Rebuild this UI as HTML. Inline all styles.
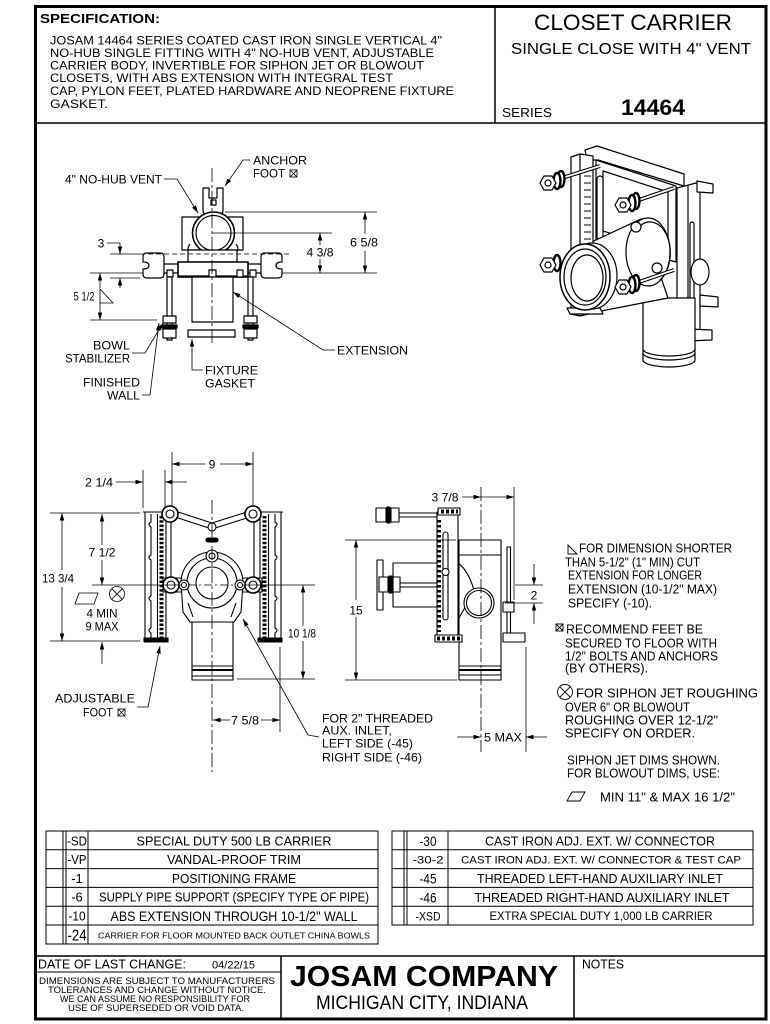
<!DOCTYPE html>
<html><head><meta charset="utf-8"><style>
html,body{margin:0;padding:0;background:#fff;}
svg{display:block;}
text{font-family:"Liberation Sans",Arial,sans-serif;fill:#000;stroke:none;}
</style></head><body>
<svg width="770" height="1024" viewBox="0 0 770 1024" xmlns="http://www.w3.org/2000/svg">
<defs>
<marker id="a" viewBox="0 0 10 6" refX="10" refY="3" markerWidth="8" markerHeight="4.5" markerUnits="userSpaceOnUse" orient="auto-start-reverse"><path d="M0,0 L10,3 L0,6 z" fill="#000" stroke="none"/></marker>
</defs>
<rect x="0" y="0" width="770" height="1024" fill="#fff"/>

<!-- FRAME -->
<rect x="35.5" y="6.5" width="730.5" height="1012.5" fill="none" stroke="#000" stroke-width="3"/>
<line x1="495" y1="7" x2="495" y2="123" stroke="#000" stroke-width="1.5"/>
<line x1="35" y1="123" x2="766" y2="123" stroke="#000" stroke-width="1.5"/>

<!-- HEADER TEXT -->
<text x="40" y="23" font-size="13" font-weight="bold" textLength="120" lengthAdjust="spacingAndGlyphs">SPECIFICATION:</text>
<g font-size="12">
<text x="50" y="44.5" textLength="392" lengthAdjust="spacingAndGlyphs">JOSAM 14464 SERIES COATED CAST IRON SINGLE VERTICAL 4"</text>
<text x="50" y="57" textLength="384" lengthAdjust="spacingAndGlyphs">NO-HUB SINGLE FITTING WITH 4" NO-HUB VENT, ADJUSTABLE</text>
<text x="50" y="69.5" textLength="374" lengthAdjust="spacingAndGlyphs">CARRIER BODY, INVERTIBLE FOR SIPHON JET OR BLOWOUT</text>
<text x="50" y="82" textLength="343" lengthAdjust="spacingAndGlyphs">CLOSETS, WITH ABS EXTENSION WITH INTEGRAL TEST</text>
<text x="50" y="95" textLength="404" lengthAdjust="spacingAndGlyphs">CAP, PYLON FEET, PLATED HARDWARE AND NEOPRENE FIXTURE</text>
<text x="50" y="108" textLength="58" lengthAdjust="spacingAndGlyphs">GASKET.</text>
</g>
<text x="633" y="30" font-size="22" text-anchor="middle" textLength="198" lengthAdjust="spacingAndGlyphs">CLOSET CARRIER</text>
<text x="631" y="54" font-size="15.5" text-anchor="middle" textLength="240" lengthAdjust="spacingAndGlyphs">SINGLE CLOSE WITH 4" VENT</text>
<text x="502" y="117" font-size="13" textLength="50" lengthAdjust="spacingAndGlyphs">SERIES</text>
<text x="621" y="115" font-size="22" font-weight="bold" textLength="64" lengthAdjust="spacingAndGlyphs">14464</text>

<!-- ================= TOP PLAN VIEW ================= -->
<g stroke="#000" stroke-width="1.2" fill="#fff" stroke-linejoin="round">
 <path d="M203,188 L209,188 L209,198 L217,198 L217,188 L223,188 L223,210 Q223,215 218,215 L208,215 Q203,215 203,210 Z"/>
 <rect x="211" y="200" width="5" height="5"/>
 <rect x="182" y="217" width="61" height="33"/>
 <path d="M190,244 Q186,250 190,252 M236,244 Q240,250 236,252" fill="none"/>
 <circle cx="213.5" cy="233" r="21" stroke-width="1.6"/>
 <circle cx="213.5" cy="233" r="17.5"/>
 <rect x="188" y="250" width="49" height="12"/>
 <rect x="160" y="264" width="105" height="9"/>
 <path d="M147,253 L160,253 Q164,253 164,257 L164,274 Q164,278 160,278 L147,278 Q143,278 143,274 L143,269 Q149,269 149,265.5 Q149,262 143,262 L143,257 Q143,253 147,253 Z"/>
 <path d="M265,253 L278,253 Q282,253 282,257 L282,262 Q276,262 276,265.5 Q276,269 282,269 L282,274 Q282,278 278,278 L265,278 Q261,278 261,274 L261,257 Q261,253 265,253 Z"/>
 <rect x="178" y="262" width="70" height="15" stroke-width="1.6"/>
 <line x1="178" y1="276.5" x2="248" y2="276.5" stroke-width="2.2"/>
 <rect x="167" y="270" width="6" height="7"/>
 <rect x="209" y="270" width="7" height="7"/>
 <rect x="237" y="270" width="6" height="7"/>
 <rect x="250" y="270" width="6" height="7"/>
 <rect x="167" y="277" width="5" height="63"/>
 <rect x="248" y="277" width="5" height="63"/>
 <rect x="163" y="316" width="13" height="7"/>
 <rect x="162" y="325" width="15" height="3" fill="#000"/>
 <rect x="163" y="329" width="13" height="9"/>
 <rect x="244" y="316" width="13" height="7"/>
 <rect x="243" y="325" width="15" height="3" fill="#000"/>
 <rect x="244" y="329" width="13" height="9"/>
 <rect x="192" y="277" width="41" height="45"/>
 <rect x="188" y="330" width="47" height="7"/>
</g>
<g stroke="#000" stroke-width="0.8" fill="none">
 <line x1="212" y1="168" x2="212" y2="345" stroke-dasharray="14 3 3 3"/>
 <line x1="212" y1="233" x2="236" y2="233"/>
 <line x1="140" y1="254" x2="292" y2="254" stroke-dasharray="5 3"/>
 <line x1="90" y1="273" x2="143" y2="273"/>
 <line x1="282" y1="273" x2="377" y2="273"/>
 <line x1="225" y1="212" x2="377" y2="212"/>
 <line x1="236" y1="233" x2="332" y2="233"/>
 <line x1="90" y1="320" x2="157" y2="320"/>
 <line x1="110" y1="254" x2="140" y2="254"/>
 <line x1="110" y1="278" x2="140" y2="278"/>
 <line x1="365" y1="234" x2="365" y2="212" marker-end="url(#a)"/>
 <line x1="365" y1="251" x2="365" y2="273" marker-end="url(#a)"/>
 <line x1="320" y1="245" x2="320" y2="233" marker-end="url(#a)"/>
 <line x1="320" y1="259" x2="320" y2="273" marker-end="url(#a)"/>
 <polyline points="107,243 120,243 120,254" marker-end="url(#a)"/>
 <line x1="120" y1="288" x2="120" y2="278" marker-end="url(#a)"/>
 <line x1="100" y1="288" x2="100" y2="273" marker-end="url(#a)"/>
 <line x1="100" y1="303" x2="100" y2="320" marker-end="url(#a)"/>
 <path d="M100,289 L100,303 L113,303 Z"/>
 <polyline points="164,179 177,179 198,213" marker-end="url(#a)"/>
 <polyline points="250,160 243,160 225,186" marker-end="url(#a)"/>
 <polyline points="335,350 323,350 233,292" marker-end="url(#a)"/>
 <polyline points="203,370 192,370 192,339" marker-end="url(#a)"/>
 <polyline points="132,353 145,353 163,323" marker-end="url(#a)"/>
 <polyline points="142,395 150,395 159,323" marker-end="url(#a)"/>
 <rect x="290" y="170" width="7" height="7"/>
 <path d="M290,170 L297,177 M297,170 L290,177"/>
</g>
<g font-size="12">
 <text x="65" y="183.5" textLength="97" lengthAdjust="spacingAndGlyphs">4" NO-HUB VENT</text>
 <text x="253" y="164.5" textLength="54" lengthAdjust="spacingAndGlyphs">ANCHOR</text>
 <text x="253" y="177.5" textLength="32" lengthAdjust="spacingAndGlyphs">FOOT</text>
 <text x="101" y="247.5" text-anchor="middle">3</text>
 <text x="364" y="246.5" text-anchor="middle" textLength="28" lengthAdjust="spacingAndGlyphs">6 5/8</text>
 <text x="320" y="256.5" text-anchor="middle" textLength="27" lengthAdjust="spacingAndGlyphs">4 3/8</text>
 <text x="84" y="300.5" text-anchor="middle" textLength="21" lengthAdjust="spacingAndGlyphs">5 1/2</text>
 <text x="130" y="349.5" text-anchor="end" textLength="37" lengthAdjust="spacingAndGlyphs">BOWL</text>
 <text x="130" y="362.5" text-anchor="end" textLength="65" lengthAdjust="spacingAndGlyphs">STABILIZER</text>
 <text x="140" y="386.5" text-anchor="end" textLength="57" lengthAdjust="spacingAndGlyphs">FINISHED</text>
 <text x="140" y="399.5" text-anchor="end" textLength="33" lengthAdjust="spacingAndGlyphs">WALL</text>
 <text x="205" y="374.5" textLength="53" lengthAdjust="spacingAndGlyphs">FIXTURE</text>
 <text x="205" y="387.5" textLength="50" lengthAdjust="spacingAndGlyphs">GASKET</text>
 <text x="337" y="354.5" textLength="71" lengthAdjust="spacingAndGlyphs">EXTENSION</text>
</g>

<!-- ================= ISOMETRIC ================= -->
<g stroke="#000" stroke-width="1.2" fill="#fff" stroke-linejoin="round">
 <polygon points="677,188 700,182 700,337 677,343"/>
 <line x1="688" y1="185" x2="688" y2="340"/>
 <rect x="690" y="222" width="4" height="92" rx="2"/>
 <polygon points="697,181 713,184 713,193 697,192"/>
 <polygon points="700,295 718,297 718,307 700,306"/>
 <polygon points="687,329 712,330 712,340 687,341"/>
 <polygon points="596,160 676,186 676,262 596,240"/>
 <polygon points="603,171 668,192 668,252 603,231" fill="none"/>
 <rect x="597" y="176" width="6" height="64" rx="3"/>
 <polygon points="585,150 597,146 684,174 684,186 598,160 587,160"/>
 <path d="M643,298 L643,360 A26,7 0 0 0 695,360 L695,298 Z"/>
 <path d="M643,349 A26,7 0 0 0 695,349" fill="none"/>
 <path d="M643,353 A26,7 0 0 0 695,353" fill="none"/>
 <ellipse cx="700" cy="272" rx="9" ry="13"/>
 <polygon points="583,246 641,219 668,298 601,311"/>
 <ellipse cx="648" cy="252" rx="22" ry="34"/>
 <path d="M640,226 A17,26 0 0 1 660,280" fill="none"/>
 <circle cx="636" cy="227" r="5"/>
 <circle cx="657" cy="268" r="5"/>
 <polygon points="571,157 580,154 593,156 593,313 580,316 571,314"/>
 <line x1="580" y1="154" x2="580" y2="316"/>
 <g stroke-width="1">
  <line x1="584" y1="176" x2="591" y2="176"/><line x1="584" y1="183" x2="591" y2="183"/><line x1="584" y1="190" x2="591" y2="190"/><line x1="584" y1="197" x2="591" y2="197"/><line x1="584" y1="204" x2="591" y2="204"/><line x1="584" y1="211" x2="591" y2="211"/><line x1="584" y1="218" x2="591" y2="218"/><line x1="584" y1="225" x2="591" y2="225"/><line x1="584" y1="232" x2="591" y2="232"/><line x1="584" y1="239" x2="591" y2="239"/>
 </g>
 <polygon points="567,308 600,308 603,314 570,314"/>
 <ellipse cx="592" cy="276" rx="25" ry="33"/>
 <ellipse cx="585" cy="277" rx="25" ry="33" stroke-width="1.5"/>
 <ellipse cx="585" cy="277" rx="21" ry="28" fill="none"/>
 <ellipse cx="587" cy="278" rx="16" ry="23"/>
 <line x1="562" y1="178" x2="600" y2="166" stroke-width="4"/>
 <line x1="562" y1="178" x2="600" y2="166" stroke="#fff" stroke-width="1.8"/>
 <line x1="636" y1="201" x2="674" y2="188" stroke-width="4"/>
 <line x1="636" y1="201" x2="674" y2="188" stroke="#fff" stroke-width="1.8"/>
 <line x1="636" y1="283" x2="674" y2="270" stroke-width="4"/>
 <line x1="636" y1="283" x2="674" y2="270" stroke="#fff" stroke-width="1.8"/>
 <ellipse cx="561" cy="179" rx="3.5" ry="8" stroke-width="2.4"/>
 <ellipse cx="557" cy="181" rx="3.5" ry="8" stroke-width="2.4"/>
 <polygon points="556,183 552,190 544,190 540,183 544,176 552,176"/>
 <circle cx="548" cy="183" r="3"/>
 <ellipse cx="636" cy="201" rx="3.5" ry="8" stroke-width="2.4"/>
 <ellipse cx="632" cy="203" rx="3.5" ry="8" stroke-width="2.4"/>
 <polygon points="631,205 627,212 619,212 615,205 619,198 627,198"/>
 <circle cx="623" cy="205" r="3"/>
 <ellipse cx="557" cy="263" rx="3.5" ry="8" stroke-width="2.4"/>
 <polygon points="556,265 552,272 544,272 540,265 544,258 552,258"/>
 <circle cx="548" cy="265" r="3"/>
 <ellipse cx="636" cy="283" rx="3.5" ry="8" stroke-width="2.4"/>
 <ellipse cx="632" cy="285" rx="3.5" ry="8" stroke-width="2.4"/>
 <polygon points="631,287 627,294 619,294 615,287 619,280 627,280"/>
 <circle cx="623" cy="287" r="3"/>
</g>

<!-- ================= FRONT VIEW ================= -->
<g stroke="#000" stroke-width="1.1" fill="#fff" stroke-linejoin="round">
 <rect x="145" y="512" width="21" height="130"/>
 <path d="M151,514 L151,522 Q147,524 151,527 L151,555 Q147,557 151,560 L151,596 Q147,598 151,601 L151,628 Q147,630 151,633 L151,640" fill="none"/>
 <line x1="157.5" y1="514" x2="157.5" y2="640"/>
 <line x1="161.5" y1="516" x2="161.5" y2="638" stroke-width="4" stroke-dasharray="2.5 1.8"/>
 <line x1="143" y1="512" x2="170" y2="512"/>
 <rect x="144" y="638" width="24" height="4" fill="#000"/>
 <rect x="260" y="512" width="21" height="130"/>
 <path d="M275,514 L275,522 Q279,524 275,527 L275,555 Q279,557 275,560 L275,596 Q279,598 275,601 L275,628 Q279,630 275,633 L275,640" fill="none"/>
 <line x1="268.5" y1="514" x2="268.5" y2="640"/>
 <line x1="264.5" y1="516" x2="264.5" y2="638" stroke-width="4" stroke-dasharray="2.5 1.8"/>
 <line x1="256" y1="512" x2="283" y2="512"/>
 <rect x="258" y="638" width="24" height="4" fill="#000"/>
 <line x1="171" y1="520" x2="171" y2="578"/>
 <line x1="254" y1="520" x2="254" y2="578"/>
 <polyline points="175,511 212,523 250,511" fill="none"/>
 <polyline points="175,517 212,529 250,517" fill="none"/>
 <circle cx="212" cy="527" r="4"/>
 <rect x="206" y="538" width="12" height="4" rx="2" fill="#000"/>
 <rect x="163" y="578" width="99" height="14"/>
 <path d="M181,583 A31,31 0 0 1 243,583 L241,612 L234,622 L190,622 L183,612 Z"/>
 <path d="M188,603 L193,617 M236,603 L231,617" fill="none"/>
 <rect x="192" y="622" width="41" height="58"/>
 <line x1="192" y1="666" x2="233" y2="666"/>
 <line x1="192" y1="670" x2="233" y2="670" stroke-width="2"/>
 <line x1="192" y1="676" x2="233" y2="676"/>
 <circle cx="212" cy="583" r="25"/>
 <circle cx="212" cy="583" r="16"/>
 <circle cx="212" cy="556" r="6"/><circle cx="212" cy="556" r="3"/>
 <circle cx="170" cy="514" r="8" stroke-width="1.6"/><circle cx="170" cy="514" r="4"/>
 <circle cx="253" cy="514" r="8" stroke-width="1.6"/><circle cx="253" cy="514" r="4"/>
 <circle cx="171" cy="585" r="8" stroke-width="1.6"/><circle cx="171" cy="585" r="4"/>
 <circle cx="253" cy="585" r="8" stroke-width="1.6"/><circle cx="253" cy="585" r="4"/>
 <circle cx="184" cy="585" r="5"/><circle cx="184" cy="585" r="2.5"/>
 <circle cx="240" cy="585" r="5"/><circle cx="240" cy="585" r="2.5"/>
</g>
<g stroke="#000" stroke-width="0.8" fill="none">
 <line x1="212" y1="500" x2="212" y2="772" stroke-dasharray="14 3 3 3"/>
 <line x1="92" y1="585" x2="182" y2="585"/>
 <line x1="188" y1="585" x2="236" y2="585" stroke-dasharray="8 3 2 3"/>
 <line x1="242" y1="585" x2="315" y2="585"/>
 <line x1="172" y1="452" x2="172" y2="506"/>
 <line x1="253" y1="452" x2="253" y2="506"/>
 <line x1="205" y1="464" x2="172" y2="464" marker-end="url(#a)"/>
 <line x1="220" y1="464" x2="253" y2="464" marker-end="url(#a)"/>
 <line x1="143" y1="470" x2="143" y2="508"/>
 <line x1="165" y1="470" x2="165" y2="508"/>
 <line x1="116" y1="482" x2="143" y2="482" marker-end="url(#a)"/>
 <line x1="187" y1="482" x2="165" y2="482" marker-end="url(#a)"/>
 <line x1="50" y1="513" x2="140" y2="513"/>
 <line x1="50" y1="641" x2="140" y2="641"/>
 <line x1="62" y1="570" x2="62" y2="513" marker-end="url(#a)"/>
 <line x1="62" y1="587" x2="62" y2="641" marker-end="url(#a)"/>
 <line x1="102" y1="545" x2="102" y2="514" marker-end="url(#a)"/>
 <line x1="102" y1="560" x2="102" y2="585" marker-end="url(#a)"/>
 <line x1="102" y1="664" x2="102" y2="642" marker-end="url(#a)"/>
 <path d="M79,593 L98,593 L94,604 L75,604 Z"/>
 <circle cx="117" cy="594" r="7.5"/>
 <path d="M111.7,588.7 L122.3,599.3 M122.3,588.7 L111.7,599.3"/>
 <line x1="237" y1="679" x2="315" y2="679"/>
 <line x1="303" y1="626" x2="303" y2="585" marker-end="url(#a)"/>
 <line x1="303" y1="641" x2="303" y2="679" marker-end="url(#a)"/>
 <line x1="280" y1="647" x2="280" y2="732"/>
 <line x1="230" y1="720" x2="213" y2="720" marker-end="url(#a)"/>
 <line x1="261" y1="720" x2="280" y2="720" marker-end="url(#a)"/>
 <polyline points="137,707 148,707 160,646" marker-end="url(#a)"/>
 <polyline points="319,737 308,735 243,619" marker-end="url(#a)"/>
 <rect x="118" y="709" width="7" height="7"/>
 <path d="M118,709 L125,716 M125,709 L118,716"/>
</g>
<g font-size="12">
 <text x="212" y="468.5" text-anchor="middle">9</text>
 <text x="85" y="486.5" textLength="28" lengthAdjust="spacingAndGlyphs">2 1/4</text>
 <text x="102" y="556.5" text-anchor="middle" textLength="27" lengthAdjust="spacingAndGlyphs">7 1/2</text>
 <text x="58" y="582.5" text-anchor="middle" textLength="32" lengthAdjust="spacingAndGlyphs">13 3/4</text>
 <text x="102" y="617.5" text-anchor="middle" textLength="31" lengthAdjust="spacingAndGlyphs">4 MIN</text>
 <text x="102" y="630.5" text-anchor="middle" textLength="33" lengthAdjust="spacingAndGlyphs">9 MAX</text>
 <text x="302" y="637.5" text-anchor="middle" textLength="28" lengthAdjust="spacingAndGlyphs">10 1/8</text>
 <text x="245" y="724.5" text-anchor="middle" textLength="28" lengthAdjust="spacingAndGlyphs">7 5/8</text>
 <text x="135" y="702.5" text-anchor="end" textLength="80" lengthAdjust="spacingAndGlyphs">ADJUSTABLE</text>
 <text x="113" y="716.5" text-anchor="end" textLength="30" lengthAdjust="spacingAndGlyphs">FOOT</text>
 <text x="322" y="722.5" textLength="111" lengthAdjust="spacingAndGlyphs">FOR 2" THREADED</text>
 <text x="322" y="734.5" textLength="70" lengthAdjust="spacingAndGlyphs">AUX. INLET,</text>
 <text x="322" y="747.5" textLength="91" lengthAdjust="spacingAndGlyphs">LEFT SIDE (-45)</text>
 <text x="322" y="761.5" textLength="100" lengthAdjust="spacingAndGlyphs">RIGHT SIDE (-46)</text>
</g>

<!-- ================= SIDE VIEW ================= -->
<g stroke="#000" stroke-width="1.1" fill="#fff" stroke-linejoin="round">
 <rect x="399" y="513" width="38" height="4"/>
 <rect x="376" y="508" width="10" height="14"/>
 <rect x="387" y="507" width="3" height="16" fill="#000"/>
 <rect x="391" y="508" width="8" height="14"/>
 <polyline points="437,563 393,563 393,607 437,607" fill="none"/>
 <rect x="377" y="560" width="6" height="50"/>
 <rect x="383" y="583" width="54" height="4"/>
 <rect x="379" y="577" width="9" height="15"/>
 <rect x="389" y="576" width="3" height="17" fill="#000"/>
 <rect x="393" y="577" width="7" height="15"/>
 <rect x="459" y="540" width="42" height="140"/>
 <rect x="459" y="540" width="42" height="15"/>
 <line x1="459" y1="666" x2="501" y2="666"/>
 <line x1="459" y1="670" x2="501" y2="670" stroke-width="2"/>
 <line x1="459" y1="675" x2="501" y2="675"/>
 <path d="M458,563 Q468,570 474,590" fill="none"/>
 <path d="M458,620 Q462,612 466,606" fill="none"/>
 <circle cx="479" cy="603" r="15"/>
 <circle cx="479" cy="603" r="12.5"/>
 <rect x="437" y="512" width="21" height="128"/>
 <line x1="439" y1="520" x2="439" y2="632" stroke-width="4" stroke-dasharray="2.5 2.5"/>
 <rect x="443" y="532" width="5" height="88" rx="2.5"/>
 <circle cx="445.5" cy="572" r="3.5"/>
 <rect x="438" y="508" width="22" height="7"/>
 <line x1="441" y1="511.5" x2="458" y2="511.5" stroke-width="4" stroke-dasharray="3 2"/>
 <rect x="435" y="635" width="27" height="7"/>
 <line x1="437" y1="638.5" x2="461" y2="638.5" stroke-width="4" stroke-dasharray="3 2"/>
 <rect x="507" y="547" width="3.5" height="90"/>
 <rect x="503" y="602" width="11" height="10"/>
 <rect x="503" y="633" width="22" height="9"/>
</g>
<g stroke="#000" stroke-width="0.8" fill="none">
 <line x1="481" y1="487" x2="481" y2="752" stroke-dasharray="14 3 3 3"/>
 <line x1="514" y1="487" x2="514" y2="600"/>
 <line x1="462" y1="497" x2="481" y2="497" marker-end="url(#a)"/>
 <line x1="481" y1="497" x2="514" y2="497" marker-end="url(#a)"/>
 <line x1="345" y1="540" x2="456" y2="540"/>
 <line x1="345" y1="680" x2="457" y2="680"/>
 <line x1="356" y1="600" x2="356" y2="540" marker-end="url(#a)"/>
 <line x1="356" y1="617" x2="356" y2="680" marker-end="url(#a)"/>
 <line x1="515" y1="585" x2="543" y2="585"/>
 <line x1="505" y1="603" x2="543" y2="603"/>
 <line x1="534" y1="564" x2="534" y2="585" marker-end="url(#a)"/>
 <line x1="534" y1="624" x2="534" y2="603" marker-end="url(#a)"/>
 <line x1="526" y1="647" x2="526" y2="752"/>
 <line x1="457" y1="737" x2="481" y2="737" marker-end="url(#a)"/>
 <line x1="547" y1="737" x2="526" y2="737" marker-end="url(#a)"/>
</g>
<g font-size="12">
 <text x="445" y="501.5" text-anchor="middle" textLength="27" lengthAdjust="spacingAndGlyphs">3 7/8</text>
 <text x="356" y="614.5" text-anchor="middle">15</text>
 <text x="534" y="599.5" text-anchor="middle">2</text>
 <text x="484" y="741.5" textLength="38" lengthAdjust="spacingAndGlyphs">5 MAX</text>
</g>

<!-- ================= NOTES ================= -->
<g stroke="#000" stroke-width="0.9" fill="none">
 <path d="M568,545 L568,554 L577,554 Z"/>
 <rect x="556" y="624" width="7" height="7"/>
 <path d="M556,624 L563,631 M563,624 L556,631"/>
 <circle cx="565" cy="692" r="7.5"/>
 <path d="M559.7,686.7 L570.3,697.3 M570.3,686.7 L559.7,697.3"/>
 <path d="M572,792 L585,792 L580,801 L567,801 Z"/>
</g>
<g font-size="13">
 <text x="579" y="552.5" textLength="153" lengthAdjust="spacingAndGlyphs">FOR DIMENSION SHORTER</text>
 <text x="565" y="566.5" textLength="135" lengthAdjust="spacingAndGlyphs">THAN 5-1/2" (1" MIN) CUT</text>
 <text x="568" y="579.5" textLength="134" lengthAdjust="spacingAndGlyphs">EXTENSION FOR LONGER</text>
 <text x="568" y="593.5" textLength="149" lengthAdjust="spacingAndGlyphs">EXTENSION (10-1/2" MAX)</text>
 <text x="568" y="607.5" textLength="84" lengthAdjust="spacingAndGlyphs">SPECIFY (-10).</text>
 <text x="566" y="633.5" textLength="137" lengthAdjust="spacingAndGlyphs">RECOMMEND FEET BE</text>
 <text x="565" y="647.5" textLength="152" lengthAdjust="spacingAndGlyphs">SECURED TO FLOOR WITH</text>
 <text x="565" y="660.5" textLength="153" lengthAdjust="spacingAndGlyphs">1/2" BOLTS AND  ANCHORS</text>
 <text x="565" y="672.5" textLength="83" lengthAdjust="spacingAndGlyphs">(BY OTHERS).</text>
 <text x="576" y="697.5" textLength="182" lengthAdjust="spacingAndGlyphs">FOR SIPHON JET ROUGHING</text>
 <text x="565" y="711.5" textLength="125" lengthAdjust="spacingAndGlyphs">OVER 6" OR BLOWOUT</text>
 <text x="565" y="724.5" textLength="153" lengthAdjust="spacingAndGlyphs">ROUGHING OVER 12-1/2"</text>
 <text x="565" y="737.5" textLength="130" lengthAdjust="spacingAndGlyphs">SPECIFY ON ORDER.</text>
 <text x="567" y="764.5" textLength="153" lengthAdjust="spacingAndGlyphs">SIPHON JET DIMS SHOWN.</text>
 <text x="567" y="777.5" textLength="153" lengthAdjust="spacingAndGlyphs">FOR BLOWOUT DIMS, USE:</text>
 <text x="600" y="801.5" textLength="135" lengthAdjust="spacingAndGlyphs">MIN 11" &amp; MAX 16 1/2"</text>
</g>

<!-- ================= TABLES ================= -->
<g stroke="#000" stroke-width="1" fill="none">
 <rect x="46" y="831" width="332" height="113"/>
 <line x1="46" y1="849.8" x2="378" y2="849.8"/>
 <line x1="46" y1="868.6" x2="378" y2="868.6"/>
 <line x1="46" y1="887.4" x2="378" y2="887.4"/>
 <line x1="46" y1="906.2" x2="378" y2="906.2"/>
 <line x1="46" y1="925" x2="378" y2="925"/>
 <line x1="63" y1="831" x2="63" y2="944"/>
 <line x1="66" y1="831" x2="66" y2="944"/>
 <line x1="88" y1="831" x2="88" y2="944"/>
 <rect x="392" y="831" width="361" height="94"/>
 <line x1="392" y1="849.8" x2="753" y2="849.8"/>
 <line x1="392" y1="868.6" x2="753" y2="868.6"/>
 <line x1="392" y1="887.4" x2="753" y2="887.4"/>
 <line x1="392" y1="906.2" x2="753" y2="906.2"/>
 <line x1="404" y1="831" x2="404" y2="925"/>
 <line x1="407" y1="831" x2="407" y2="925"/>
 <line x1="448" y1="831" x2="448" y2="925"/>
</g>
<g font-size="13" text-anchor="middle">
 <text x="77" y="845.5" textLength="20" lengthAdjust="spacingAndGlyphs">-SD</text>
 <text x="77" y="864" textLength="19" lengthAdjust="spacingAndGlyphs">-VP</text>
 <text x="77" y="883">-1</text>
 <text x="77" y="901.5">-6</text>
 <text x="77" y="920.5" textLength="17" lengthAdjust="spacingAndGlyphs">-10</text>
 <text x="77" y="940.5" font-size="16" textLength="19" lengthAdjust="spacingAndGlyphs">-24</text>
 <text x="234" y="845.5" textLength="195" lengthAdjust="spacingAndGlyphs">SPECIAL DUTY 500 LB CARRIER</text>
 <text x="234" y="864" textLength="134" lengthAdjust="spacingAndGlyphs">VANDAL-PROOF TRIM</text>
 <text x="234" y="883" textLength="124" lengthAdjust="spacingAndGlyphs">POSITIONING FRAME</text>
 <text x="234" y="901.5" textLength="270" lengthAdjust="spacingAndGlyphs">SUPPLY PIPE SUPPORT (SPECIFY TYPE OF PIPE)</text>
 <text x="234" y="921" font-size="14" textLength="247" lengthAdjust="spacingAndGlyphs">ABS EXTENSION THROUGH 10-1/2" WALL</text>
 <text x="234" y="938.5" font-size="8.5" textLength="272" lengthAdjust="spacingAndGlyphs">CARRIER FOR FLOOR MOUNTED BACK OUTLET CHINA BOWLS</text>
 <text x="428" y="846" font-size="14" textLength="17" lengthAdjust="spacingAndGlyphs">-30</text>
 <text x="428" y="863.5" font-size="11" textLength="31" lengthAdjust="spacingAndGlyphs">-30-2</text>
 <text x="428" y="883.5" font-size="14" textLength="17" lengthAdjust="spacingAndGlyphs">-45</text>
 <text x="428" y="902.5" font-size="14" textLength="17" lengthAdjust="spacingAndGlyphs">-46</text>
 <text x="428" y="920.5" font-size="12" textLength="25" lengthAdjust="spacingAndGlyphs">-XSD</text>
 <text x="600" y="845.5" textLength="230" lengthAdjust="spacingAndGlyphs">CAST IRON ADJ. EXT. W/ CONNECTOR</text>
 <text x="601" y="863.5" font-size="11" textLength="280" lengthAdjust="spacingAndGlyphs">CAST IRON ADJ. EXT. W/ CONNECTOR &amp; TEST CAP</text>
 <text x="600" y="883" textLength="246" lengthAdjust="spacingAndGlyphs">THREADED LEFT-HAND AUXILIARY INLET</text>
 <text x="602" y="902" textLength="255" lengthAdjust="spacingAndGlyphs">THREADED RIGHT-HAND AUXILIARY INLET</text>
 <text x="601" y="920" font-size="11.5" textLength="223" lengthAdjust="spacingAndGlyphs">EXTRA SPECIAL DUTY 1,000 LB CARRIER</text>
</g>

<!-- ================= FOOTER ================= -->
<g stroke="#000" stroke-width="1.5" fill="none">
 <line x1="35" y1="956" x2="766" y2="956"/>
 <line x1="281" y1="956" x2="281" y2="1019"/>
 <line x1="574" y1="956" x2="574" y2="1019"/>
 <line x1="35" y1="972" x2="281" y2="972" stroke-width="1"/>
</g>
<text x="38" y="968.5" font-size="12.5" textLength="148" lengthAdjust="spacingAndGlyphs">DATE OF LAST CHANGE:</text>
<text x="212" y="968.5" font-size="11" textLength="43" lengthAdjust="spacingAndGlyphs">04/22/15</text>
<g font-size="9.2" text-anchor="middle">
 <text x="157" y="984" textLength="236" lengthAdjust="spacingAndGlyphs">DIMENSIONS ARE SUBJECT TO MANUFACTURERS</text>
 <text x="157" y="993" textLength="218" lengthAdjust="spacingAndGlyphs">TOLERANCES AND CHANGE WITHOUT NOTICE.</text>
 <text x="155" y="1002" textLength="190" lengthAdjust="spacingAndGlyphs">WE CAN ASSUME NO RESPONSIBILITY FOR</text>
 <text x="156" y="1011" textLength="176" lengthAdjust="spacingAndGlyphs">USE OF SUPERSEDED OR VOID DATA.</text>
</g>
<text x="424" y="986" font-size="29" font-weight="bold" text-anchor="middle" textLength="268" lengthAdjust="spacingAndGlyphs">JOSAM COMPANY</text>
<text x="422" y="1009" font-size="19" text-anchor="middle" textLength="212" lengthAdjust="spacingAndGlyphs">MICHIGAN CITY, INDIANA</text>
<text x="582" y="968.5" font-size="13" textLength="42" lengthAdjust="spacingAndGlyphs">NOTES</text>
</svg>
</body></html>
